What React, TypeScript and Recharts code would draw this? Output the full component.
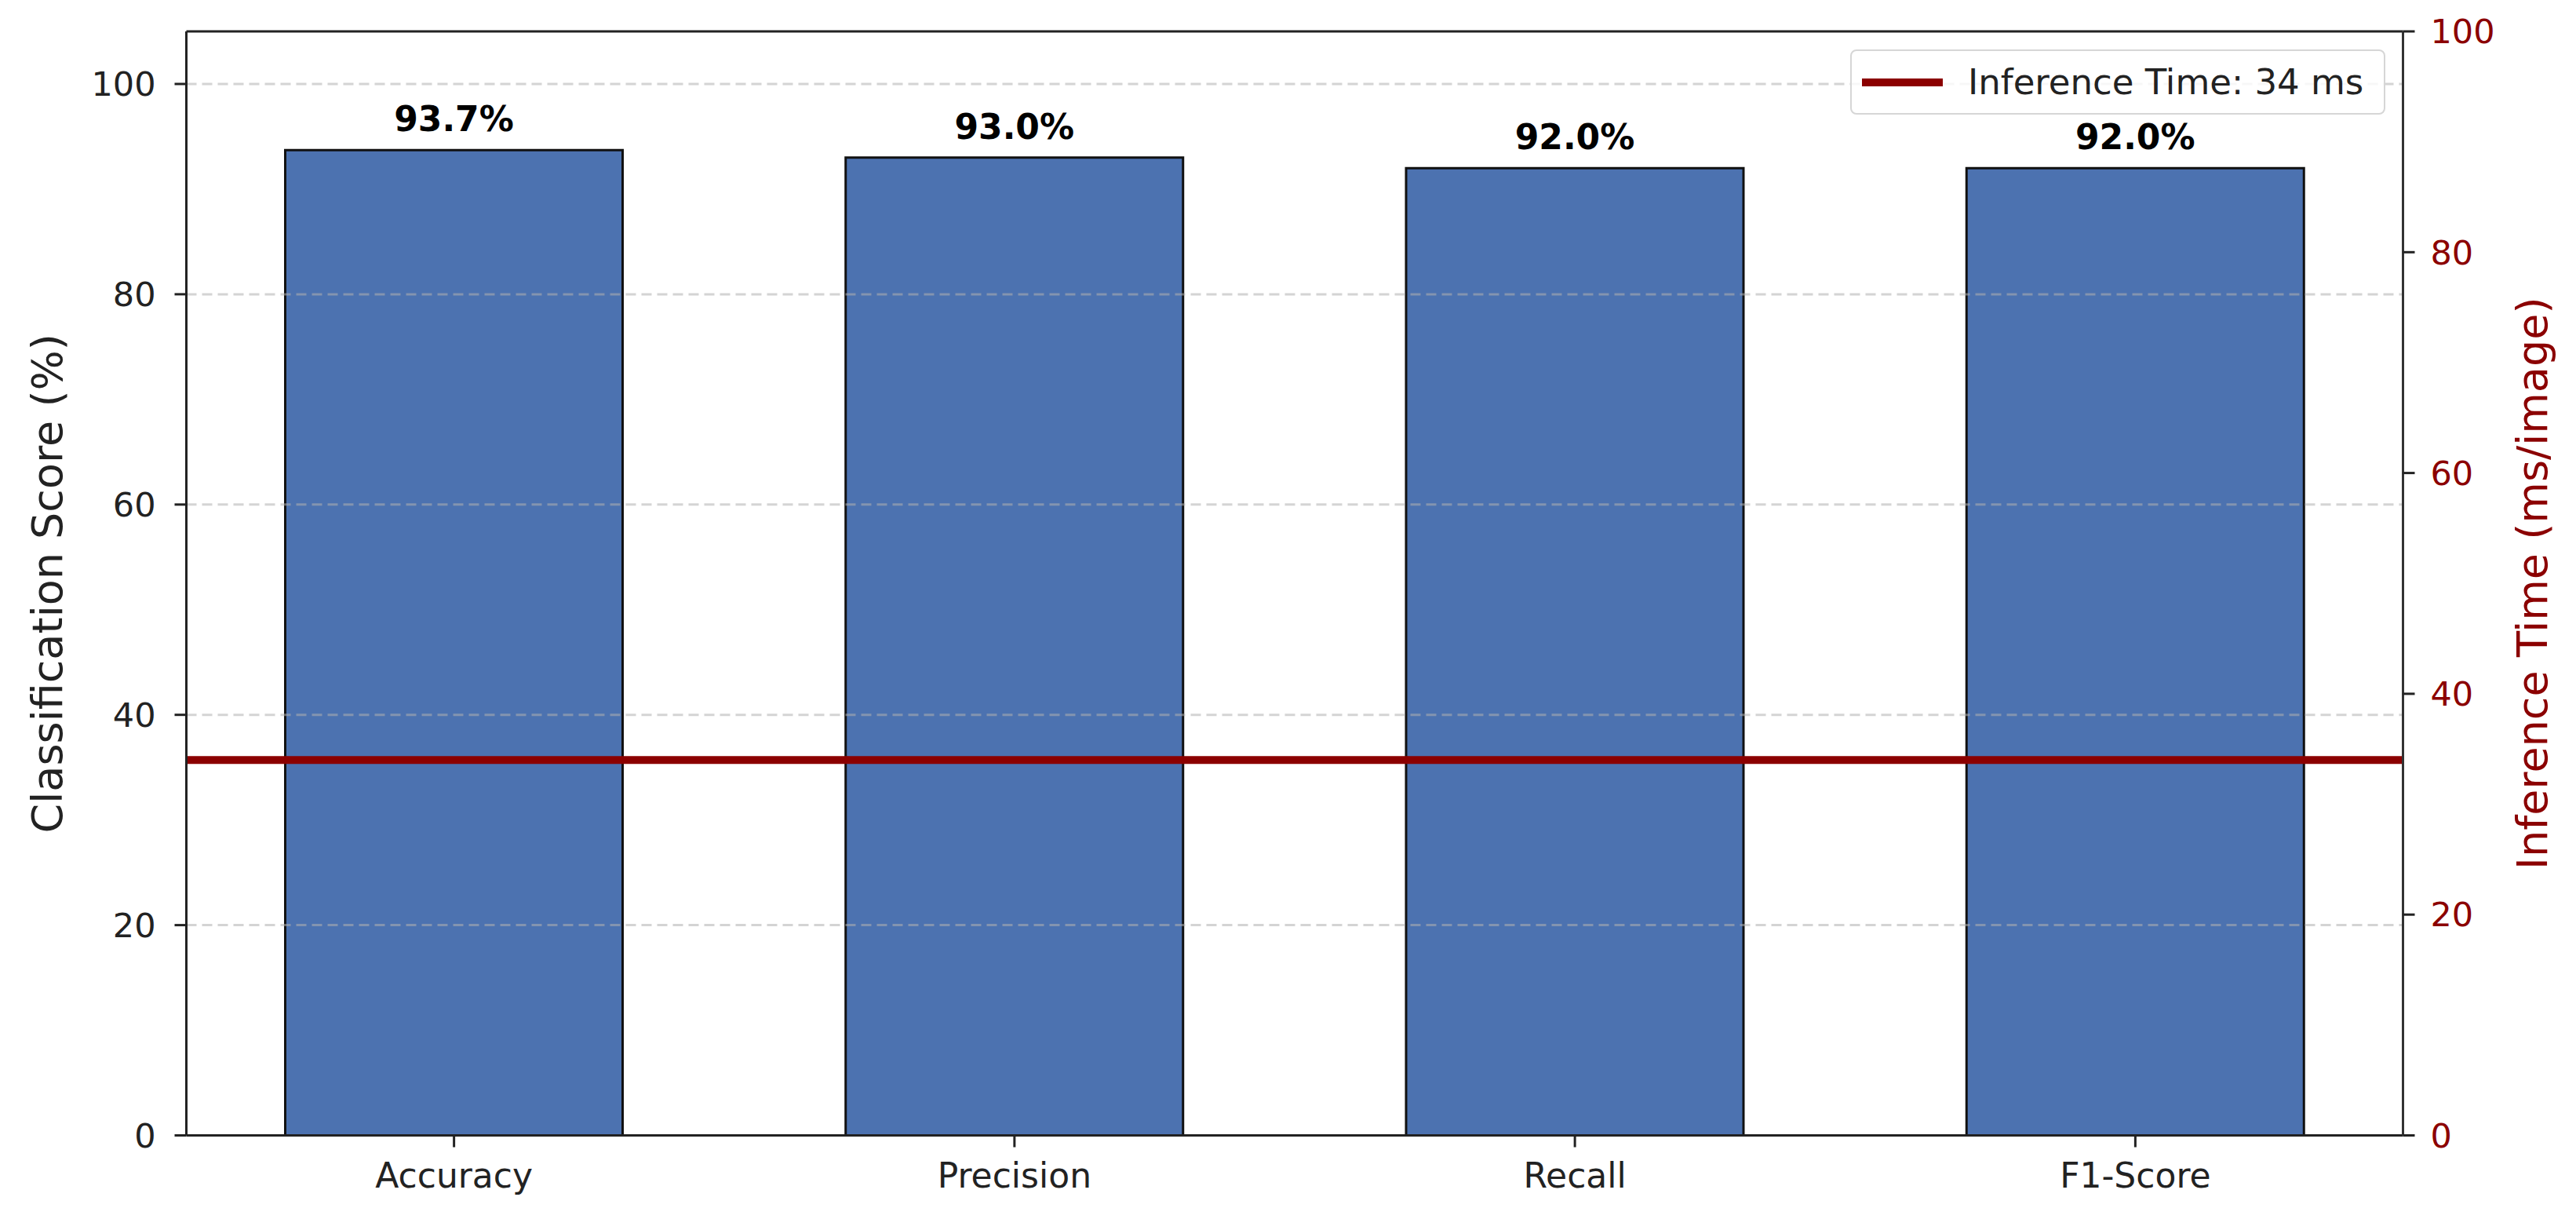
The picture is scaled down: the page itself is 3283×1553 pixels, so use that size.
import { ComposedChart, Bar, Line, XAxis, YAxis, ReferenceLine, LabelList } from 'recharts';

const CATEGORIES = ['Accuracy', 'Precision', 'Recall', 'F1-Score'];
const SCORES = [93.7, 93.0, 92.0, 92.0];
const INFERENCE_MS = 34;
const SCORE_TICKS = [0, 20, 40, 60, 80, 100];
const TIME_TICKS = [0, 20, 40, 60, 80, 100];
const SCORE_MAX = 105;
const TIME_MAX = 100;

const data = CATEGORIES.map((name, i) => ({ name, score: SCORES[i], time: INFERENCE_MS }));

const FONT = '"DejaVu Sans", Verdana, sans-serif';
const INK = '#222';
const DARK_RED = '#8B0000';
const BAR_BLUE = '#4C72B0';

export default function App() {
  const W = 3267;
  const H = 1537;

  return (
    <div style={{ position: 'relative', width: W, height: H, fontFamily: FONT, background: '#fff' }}>
      <ComposedChart width={W} height={H} data={data} margin={{ top: 32, left: 0, right: 0, bottom: 0 }}>
        <XAxis
          dataKey="name"
          height={98.5}
          padding={{ left: -16, right: -16 }}
          tick={{ fill: INK, fontSize: 44, fontFamily: FONT }}
          tickSize={15}
          tickMargin={20}
          tickLine={{ stroke: INK, strokeWidth: 3 }}
          axisLine={{ stroke: INK, strokeWidth: 3 }}
        />
        <YAxis
          yAxisId="left"
          type="number"
          domain={[0, SCORE_MAX]}
          allowDataOverflow
          ticks={SCORE_TICKS}
          width={229.5}
          tick={{ fill: INK, fontSize: 43, fontFamily: FONT }}
          tickSize={15}
          tickMargin={24}
          tickLine={{ stroke: INK, strokeWidth: 3 }}
          axisLine={{ stroke: INK, strokeWidth: 3 }}
          label={{
            value: 'Classification Score (%)',
            angle: -90,
            position: 'insideLeft',
            offset: 52,
            style: { textAnchor: 'middle', fontSize: 54, fill: INK, fontFamily: FONT },
          }}
        />
        <YAxis
          yAxisId="right"
          orientation="right"
          type="number"
          domain={[0, TIME_MAX]}
          allowDataOverflow
          ticks={TIME_TICKS}
          width={212.5}
          tick={{ fill: DARK_RED, fontSize: 43, fontFamily: FONT }}
          tickSize={15}
          tickMargin={20}
          tickLine={{ stroke: INK, strokeWidth: 3 }}
          axisLine={{ stroke: '#333', strokeWidth: 3 }}
          label={{
            value: 'Inference Time (ms/image)',
            angle: -90,
            position: 'insideRight',
            offset: 48,
            style: { textAnchor: 'middle', fontSize: 54, fill: DARK_RED, fontFamily: FONT },
          }}
        />
        <Bar
          yAxisId="left"
          dataKey="score"
          fill={BAR_BLUE}
          stroke="#111"
          strokeWidth={3}
          barSize={430}
          isAnimationActive={false}
        >
          <LabelList
            dataKey="score"
            position="top"
            offset={24}
            formatter={(v: number) => `${v.toFixed(1)}%`}
            style={{ fontSize: 44, fontWeight: 'bold', fill: '#000', fontFamily: FONT }}
          />
        </Bar>
        {/* ties the right axis to data; the visible line is the reference line below */}
        <Line
          yAxisId="right"
          dataKey="time"
          stroke="none"
          dot={false}
          activeDot={false}
          legendType="none"
          isAnimationActive={false}
        />
        {SCORE_TICKS.filter(t => t > 0).map(t => (
          <ReferenceLine
            key={t}
            yAxisId="left"
            y={t}
            stroke="#b0b0b0"
            strokeOpacity={0.55}
            strokeWidth={3}
            strokeDasharray="13 7"
          />
        ))}
        <ReferenceLine yAxisId="left" y={SCORE_MAX} stroke={INK} strokeWidth={3} />
        <ReferenceLine yAxisId="right" y={INFERENCE_MS} stroke={DARK_RED} strokeWidth={10} />
      </ComposedChart>

      {/* legend box, upper right */}
      <div
        style={{
          position: 'absolute',
          left: 2350,
          top: 55,
          width: 682,
          height: 83,
          boxSizing: 'border-box',
          border: '2px solid #d6d6d6',
          borderRadius: 8,
          background: 'rgba(255,255,255,0.8)',
          display: 'flex',
          alignItems: 'center',
        }}
      >
        <div style={{ marginLeft: 13, width: 103, height: 10, background: DARK_RED }} />
        <span style={{ marginLeft: 32, fontSize: 45, color: INK, whiteSpace: 'nowrap' }}>
          Inference Time: {INFERENCE_MS} ms
        </span>
      </div>
    </div>
  );
}
